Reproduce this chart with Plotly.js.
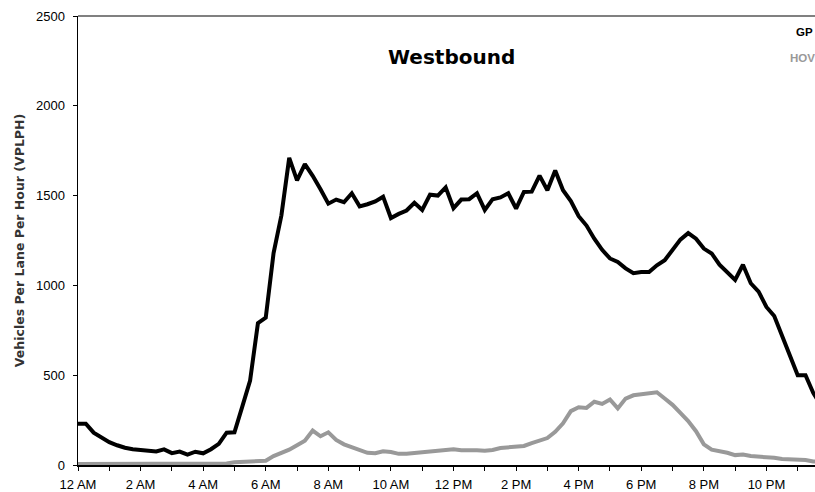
<!DOCTYPE html>
<html>
<head>
<meta charset="utf-8">
<script src="https://cdn.plot.ly/plotly-3.0.1.min.js"></script>
<style>
html, body { margin: 0; padding: 0; width: 815px; height: 492px; overflow: hidden; background: #fff; }
#chart { width: 860px; height: 492px; }
</style>
</head>
<body>
<div id="chart"></div>
<script>
// Time of day in hours (15-minute intervals)
const hours = [
  0, 0.25, 0.5, 0.75, 1, 1.25, 1.5, 1.75, 2, 2.25, 2.5, 2.75,
  3, 3.25, 3.5, 3.75, 4, 4.25, 4.5, 4.75, 5, 5.25, 5.5, 5.75,
  6, 6.25, 6.5, 6.75, 7, 7.25, 7.5, 7.75, 8, 8.25, 8.5, 8.75,
  9, 9.25, 9.5, 9.75, 10, 10.25, 10.5, 10.75, 11, 11.25, 11.5, 11.75,
  12, 12.25, 12.5, 12.75, 13, 13.25, 13.5, 13.75, 14, 14.25, 14.5, 14.75,
  15, 15.25, 15.5, 15.75, 16, 16.25, 16.5, 16.75, 17, 17.25, 17.5, 17.75,
  18, 18.25, 18.5, 18.75, 19, 19.25, 19.5, 19.75, 20, 20.25, 20.5, 20.75,
  21, 21.25, 21.5, 21.75, 22, 22.25, 22.5, 22.75, 23, 23.25, 23.5, 23.75
];

// General purpose lanes (VPLPH)
const gpLanes = [
  230, 230, 180, 152, 127, 110, 96, 88, 82, 76, 75, 87,
  66, 75, 58, 74, 65, 88, 118, 180, 182, 325, 470, 790,
  820, 1180, 1390, 1710, 1585, 1675, 1610, 1535, 1455, 1478, 1463, 1513,
  1440, 1452, 1468, 1494, 1375, 1398, 1417, 1460, 1420, 1505, 1500, 1546,
  1430, 1478, 1480, 1513, 1420, 1480, 1490, 1513, 1428, 1520, 1522, 1611,
  1530, 1640, 1530, 1470, 1385, 1333, 1260, 1198, 1150, 1130, 1095, 1068,
  1074, 1074, 1112, 1140, 1200, 1255, 1291, 1260, 1205, 1178, 1115, 1075,
  1030, 1115, 1012, 965, 880, 830, 720, 620, 500, 500, 400, 330
];

// HOV lane (VPLPH)
const hovLane = [
  5, 5, 5, 5, 4, 4, 4, 4, 4, 4, 4, 4,
  4, 4, 4, 4, 4, 4, 5, 8, 15, 18, 18, 25,
  24, 50, 65, 85, 110, 135, 192, 160, 182, 140, 115, 98,
  85, 68, 66, 76, 72, 62, 62, 66, 68, 76, 80, 84,
  87, 82, 84, 82, 80, 84, 95, 98, 100, 106, 122, 135,
  150, 185, 232, 300, 322, 318, 352, 340, 365, 315, 370, 388,
  395, 400, 405, 370, 335, 290, 245, 188, 115, 85, 78, 68,
  55, 58, 50, 47, 46, 40, 33, 33, 33, 28, 20, 15
];

// Axis ticks
const xTickVals = [0,1,2,3,4,5,6,7,8,9,10,11,12,13,14,15,16,17,18,19,20,21,22,23];
const xTickText = ['12 AM','','2 AM','','4 AM','','6 AM','','8 AM','','10 AM','','12 PM','','2 PM','','4 PM','','6 PM','','8 PM','','10 PM',''];
const yTickVals = [0, 500, 1000, 1500, 2000, 2500];

const tickFont = { family: 'Liberation Sans, Arial, sans-serif', size: 13, color: '#000' };

const traces = [
  {
    x: hours, y: hovLane, type: 'scatter', mode: 'lines', name: 'HOV',
    line: { color: '#999999', width: 4 }, hoverinfo: 'skip'
  },
  {
    x: hours, y: gpLanes, type: 'scatter', mode: 'lines', name: 'GP',
    line: { color: '#000000', width: 4 }, hoverinfo: 'skip'
  }
];

const layout = {
  width: 860, height: 492,
  margin: { l: 78, r: 31, t: 16, b: 27 },
  paper_bgcolor: '#fff', plot_bgcolor: '#fff',
  showlegend: false,
  xaxis: {
    range: [0, 24], tickmode: 'array', tickvals: xTickVals, ticktext: xTickText,
    ticks: 'outside', ticklen: 4, tickwidth: 1, tickcolor: '#000',
    showline: true, linecolor: '#000', linewidth: 1.5,
    showgrid: false, zeroline: false, tickfont: tickFont, ticklabelstandoff: 3
  },
  yaxis: {
    range: [0, 2500], tickmode: 'array', tickvals: yTickVals,
    ticks: 'outside', ticklen: 4, tickwidth: 1, tickcolor: '#000',
    showline: true, linecolor: '#000', linewidth: 1.5,
    showgrid: false, zeroline: false, tickfont: tickFont, ticklabelstandoff: 5,
    title: { text: 'Vehicles Per Lane Per Hour (VPLPH)', standoff: 8,
             font: { family: 'DejaVu Sans, sans-serif', size: 12.5, color: '#333', weight: 'bold' } }
  },
  shapes: [
    { type: 'line', xref: 'paper', yref: 'paper', x0: 0, x1: 1, y0: 1, y1: 1,
      line: { color: '#808080', width: 2 } }
  ],
  annotations: [
    { text: '<b>Westbound</b>', xref: 'paper', yref: 'paper', x: 0.498, y: 0.909,
      xanchor: 'center', yanchor: 'middle', showarrow: false,
      font: { family: 'DejaVu Sans, sans-serif', size: 20, color: '#000' } },
    { text: '<b>GP</b>', xref: 'paper', yref: 'paper', x: 0.953, y: 0.964,
      xanchor: 'left', yanchor: 'middle', showarrow: false,
      font: { family: 'Liberation Sans, Arial, sans-serif', size: 11.5, color: '#000' } },
    { text: '<b>HOV</b>', xref: 'paper', yref: 'paper', x: 0.945, y: 0.906,
      xanchor: 'left', yanchor: 'middle', showarrow: false,
      font: { family: 'Liberation Sans, Arial, sans-serif', size: 11.5, color: '#999999' } }
  ]
};

Plotly.newPlot('chart', traces, layout, { staticPlot: true, displayModeBar: false });
</script>
</body>
</html>
